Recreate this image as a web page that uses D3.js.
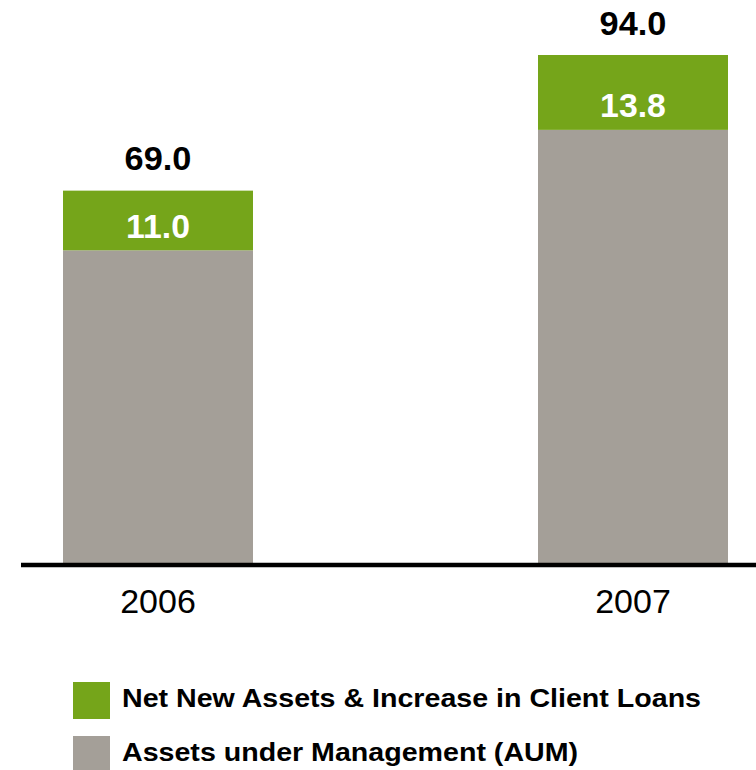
<!DOCTYPE html>
<html>
<head>
<meta charset="utf-8">
<script src="https://cdn.jsdelivr.net/npm/d3@7"></script>
<style>
  html, body { margin: 0; padding: 0; background: #fff; }
  svg { display: block; }
  text { font-family: "Liberation Sans", Arial, sans-serif; }
</style>
</head>
<body>
<svg id="chart" width="756" height="770"></svg>
<script>
// Years on the category axis
const years = ["2006", "2007"];
// Assets under Management (base segment)
const aumValues = [58.0, 80.2];
// Net New Assets & Increase in Client Loans (top segment)
const nnaValues = [11.0, 13.8];
// Totals printed above each bar
const totalValues = [69.0, 94.0];
// Legend entries, top to bottom
const legendLabels = ["Net New Assets & Increase in Client Loans", "Assets under Management (AUM)"];

const colors = { nna: "#75a51a", aum: "#a49f98" };

const svg = d3.select("#chart");

const x = d3.scaleBand()
  .domain(years)
  .range([63, 728])
  .paddingInner(0.6)
  .paddingOuter(0);

const y = d3.scaleLinear()
  .domain([0, 94])
  .range([565, 55]);

const rows = years.map((yr, i) => ({
  year: yr,
  aum: aumValues[i],
  nna: nnaValues[i],
  total: totalValues[i]
}));

const stack = d3.stack().keys(["aum", "nna"]);
const series = stack(rows);

svg.append("g")
  .selectAll("g")
  .data(series)
  .join("g")
    .attr("fill", d => colors[d.key])
  .selectAll("rect")
  .data(d => d)
  .join("rect")
    .attr("x", d => x(d.data.year))
    .attr("width", x.bandwidth())
    .attr("y", d => y(d[1]))
    .attr("height", d => y(d[0]) - y(d[1]));

// Baseline
svg.append("line")
  .attr("x1", 21).attr("x2", 756)
  .attr("y1", y(0)).attr("y2", y(0))
  .attr("stroke", "#000")
  .attr("stroke-width", 4.6);

// Category labels
svg.append("g")
  .selectAll("text")
  .data(rows)
  .join("text")
    .attr("transform", d => `translate(${x(d.year) + x.bandwidth() / 2},613) scale(1.03,1)`)
    .attr("text-anchor", "middle")
    .attr("font-size", 33)
    .attr("fill", "#000")
    .text(d => d.year);

// Totals above bars
svg.append("g")
  .selectAll("text")
  .data(rows)
  .join("text")
    .attr("transform", d => `translate(${x(d.year) + x.bandwidth() / 2},${y(d.total) - 20.5}) scale(1.04,1)`)
    .attr("text-anchor", "middle")
    .attr("font-size", 33)
    .attr("font-weight", "bold")
    .attr("fill", "#000")
    .text(d => d3.format(".1f")(d.total));

// Values inside the green segment
svg.append("g")
  .selectAll("text")
  .data(rows)
  .join("text")
    .attr("transform", d => `translate(${x(d.year) + x.bandwidth() / 2},${y(d.aum) - 12.5}) scale(1.04,1)`)
    .attr("text-anchor", "middle")
    .attr("font-size", 32.5)
    .attr("font-weight", "bold")
    .attr("fill", "#fff")
    .text(d => d3.format(".1f")(d.nna));

// Legend
const legend = svg.append("g");
const legendColors = [colors.nna, colors.aum];
const legendRows = legend.selectAll("g")
  .data(legendLabels)
  .join("g")
    .attr("transform", (d, i) => `translate(73, ${682 + i * 54})`);

legendRows.append("rect")
  .attr("width", 37)
  .attr("height", 37)
  .attr("fill", (d, i) => legendColors[i]);

legendRows.append("text")
  .attr("transform", "translate(49,25) scale(1.1,1)")
  .attr("font-size", 26)
  .attr("font-weight", "bold")
  .attr("fill", "#000")
  .text(d => d);
</script>
</body>
</html>
